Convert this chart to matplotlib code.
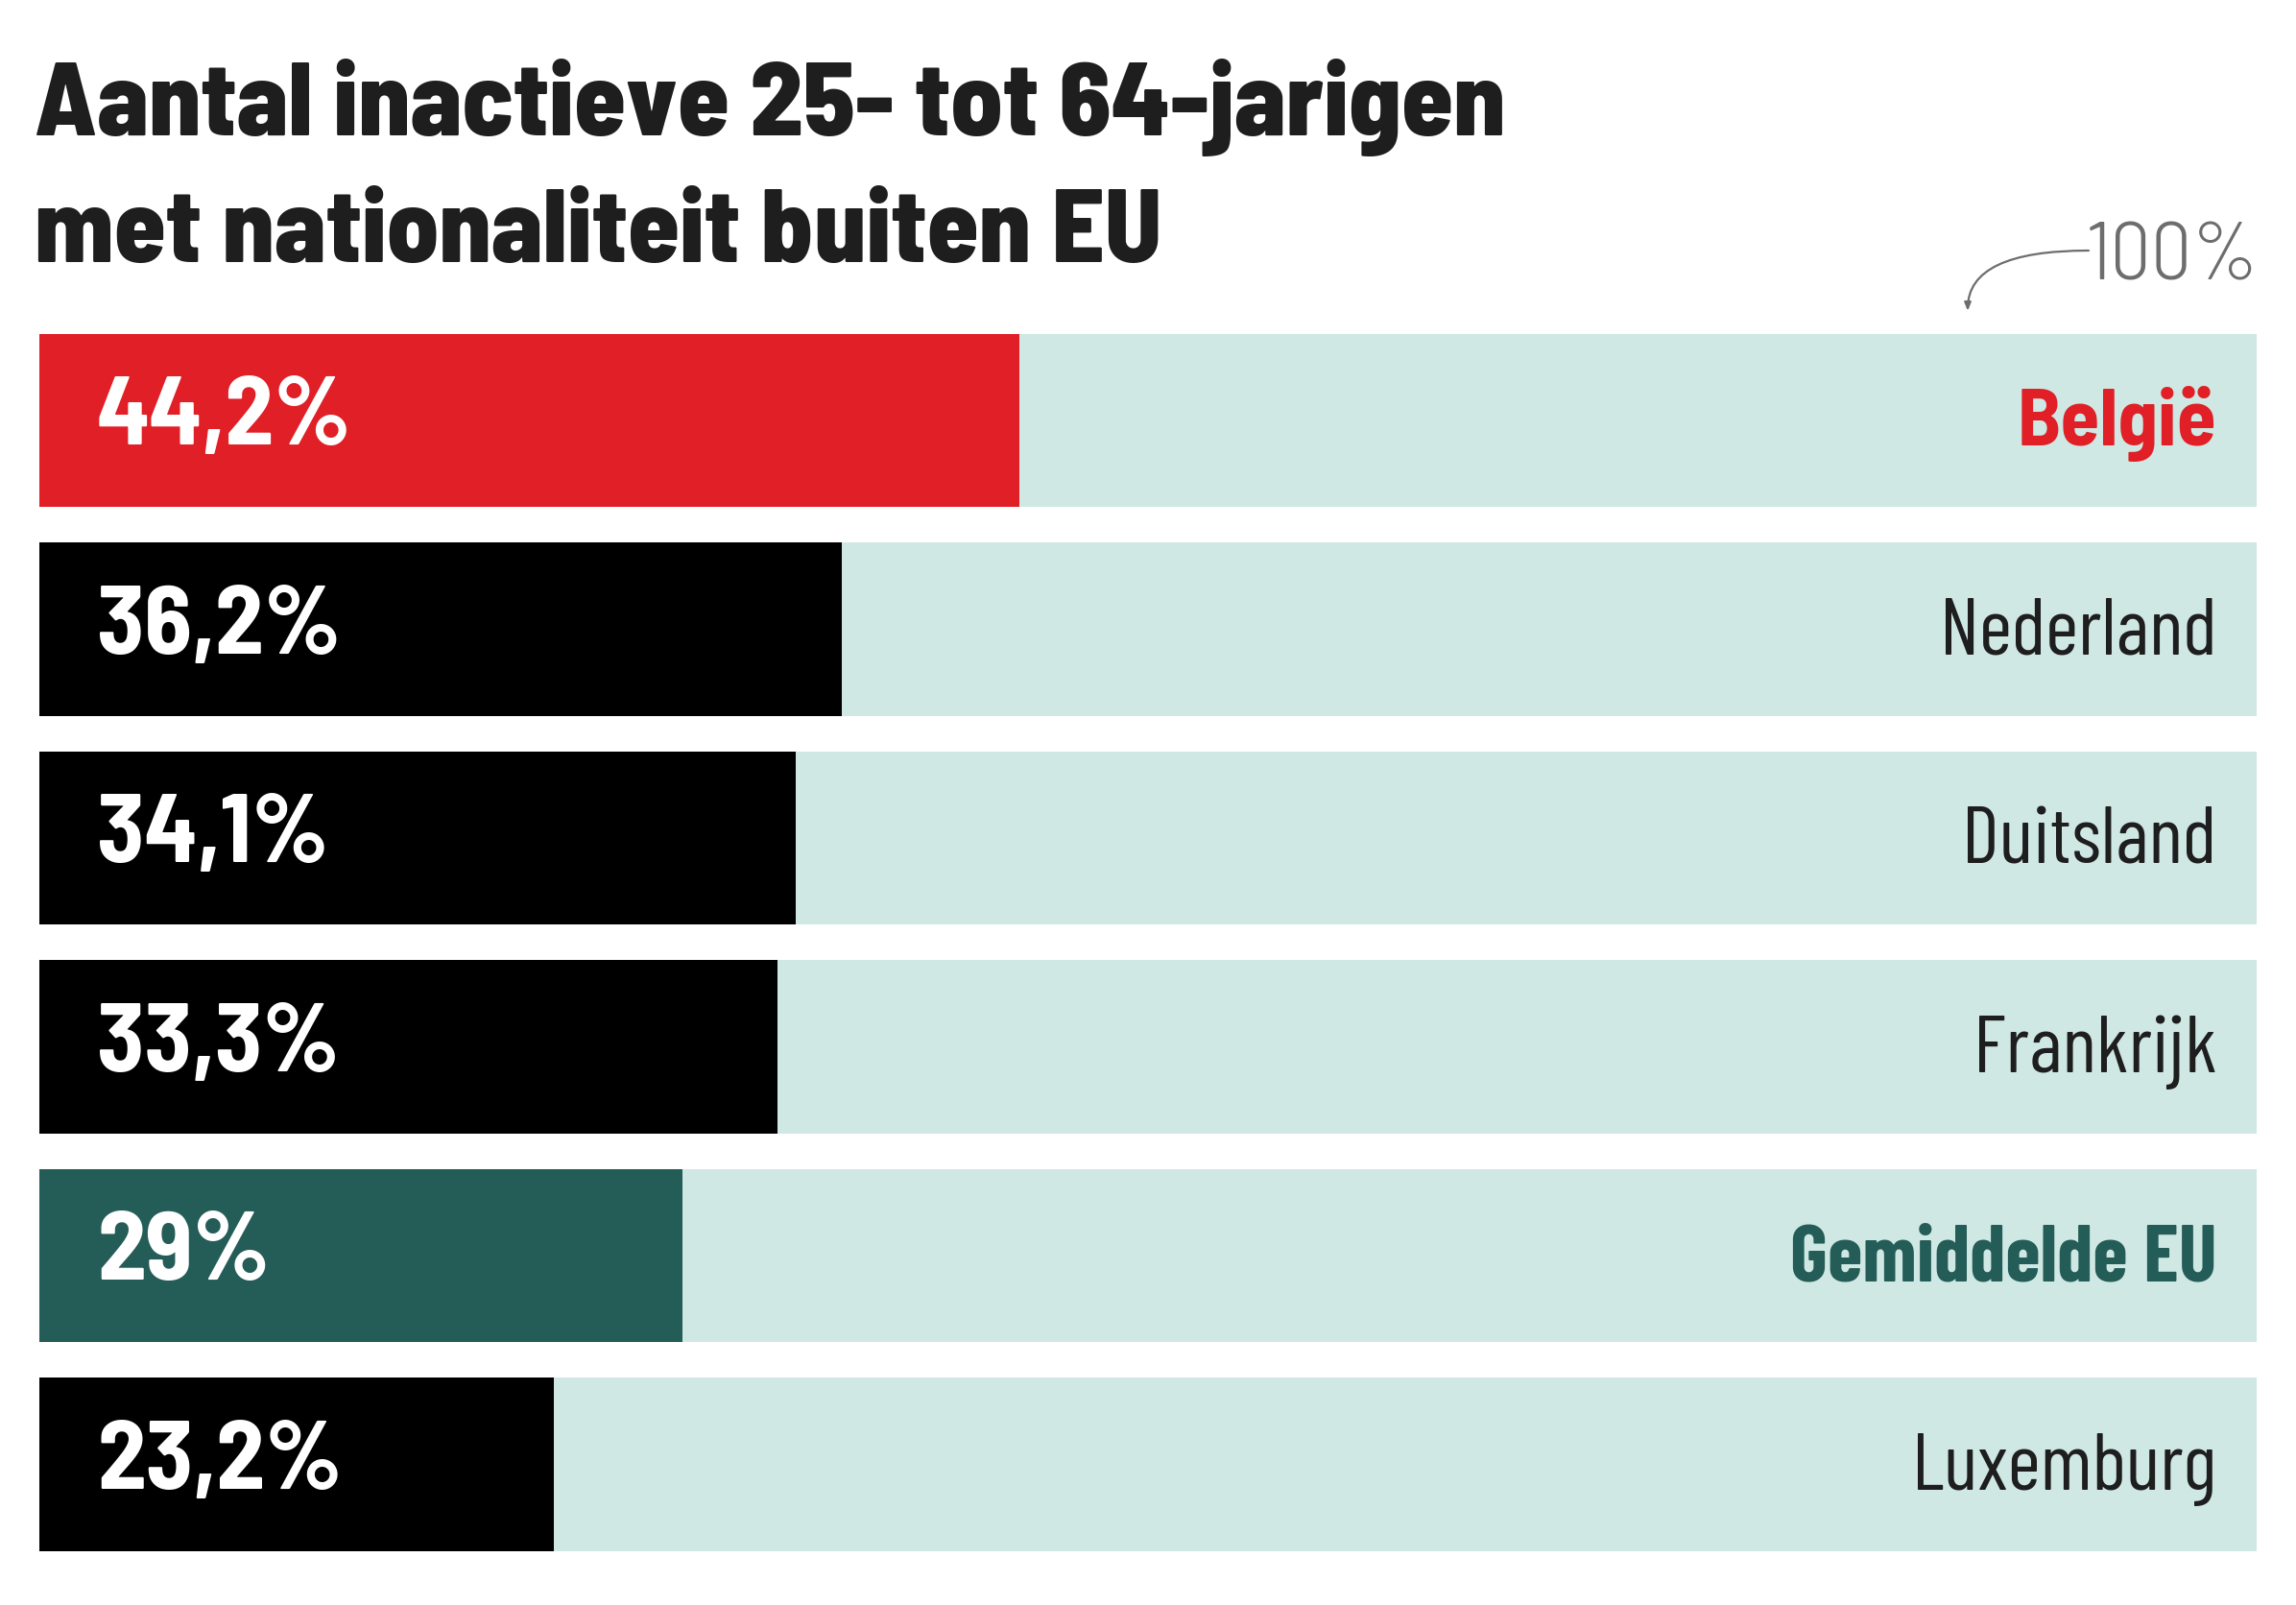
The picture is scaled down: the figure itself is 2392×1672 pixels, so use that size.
import matplotlib
matplotlib.use("Agg")
import matplotlib.pyplot as plt
from matplotlib import font_manager as fm

W, H = 2392, 1672
DPI = 100

countries = ["België", "Nederland", "Duitsland", "Frankrijk", "Gemiddelde EU", "Luxemburg"]
values = [44.2, 36.2, 34.1, 33.3, 29.0, 23.2]
value_labels = ["44,2%", "36,2%", "34,1%", "33,3%", "29%", "23,2%"]
bar_colors = ["#E01F26", "#000000", "#000000", "#000000", "#245C57", "#000000"]
name_colors = ["#E01F26", "#1e1e1e", "#1e1e1e", "#1e1e1e", "#245C57", "#1e1e1e"]
name_weights = ["bold", "normal", "normal", "normal", "bold", "normal"]
track_color = "#CFE8E4"

names = {f.name for f in fm.fontManager.ttflist}

def pick(cands):
    for c in cands:
        if c in names:
            return c
    return "DejaVu Sans"

SEMI = pick(["Barlow Semi Condensed", "Barlow Condensed", "Roboto Condensed"])
COND = pick(["Barlow Condensed", "Barlow Semi Condensed", "Roboto Condensed"])
name_fams = [SEMI, COND, COND, COND, COND, COND]

fig = plt.figure(figsize=(W / DPI, H / DPI), dpi=DPI)
fig.patch.set_facecolor("white")

def fx(px):
    return px / W

def fy(py):
    return 1 - py / H

x0, x1 = 41, 2351
pitch = 217.5
top = 438 - pitch * 0.5
ax = fig.add_axes([fx(x0), fy(top + 6 * pitch), fx(x1 - x0), 6 * pitch / H])
ax.set_xlim(0, 100)
ax.set_ylim(5.5, -0.5)
ax.axis("off")

ys = list(range(len(countries)))
ax.barh(ys, [100] * len(ys), height=0.832, color=track_color, linewidth=0)
ax.barh(ys, values, height=0.832, color=bar_colors, linewidth=0)

for y, lab, name, nc, nw, nf in zip(ys, value_labels, countries, name_colors,
                                    name_weights, name_fams):
    ax.text(2.6, y + 0.115, lab, color="white", fontsize=73, fontweight="bold",
            family=SEMI, ha="left", va="baseline")
    ax.text(98.2, y + 0.12, name, color=nc, fontsize=60, fontweight=nw,
            family=nf, ha="right", va="baseline")

fig.text(fx(36), fy(141), "Aantal inactieve 25- tot 64-jarigen", fontsize=78,
         fontweight=800, family=SEMI, color="#1e1e1e", va="baseline", ha="left")
fig.text(fx(36), fy(273), "met nationaliteit buiten EU", fontsize=78,
         fontweight=800, family=SEMI, color="#1e1e1e", va="baseline", ha="left")

fig.text(fx(2354), fy(292), "100%", fontsize=61, fontweight=300, family=SEMI,
         color="#6d6d6d", ha="right", va="baseline")
ax_ann = fig.add_axes([0, 0, 1, 1], facecolor="none")
ax_ann.set_xlim(0, W)
ax_ann.set_ylim(H, 0)
ax_ann.axis("off")
ax_ann.annotate("", xy=(2050, 324), xytext=(2176, 261),
                arrowprops=dict(arrowstyle="-|>,head_length=0.5,head_width=0.2",
                                color="#6d6d6d", lw=1.6,
                                connectionstyle="angle3,angleA=0,angleB=90",
                                shrinkA=0, shrinkB=0))

fig.savefig("out.png", dpi=DPI, facecolor="white")
